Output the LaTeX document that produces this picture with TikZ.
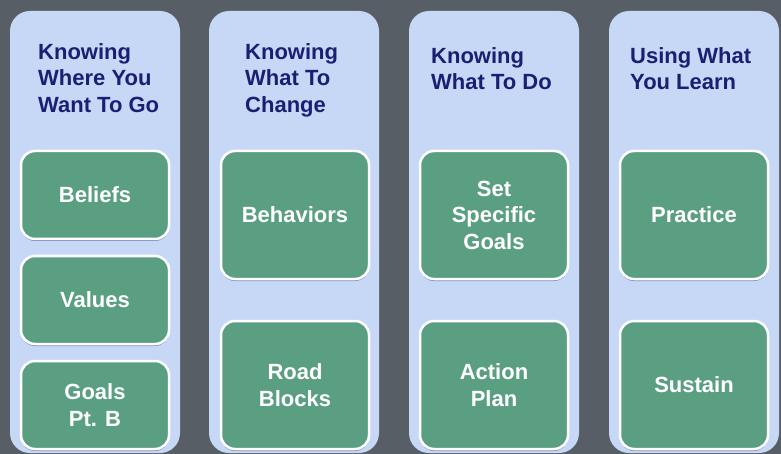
\documentclass[tikz,border=0pt]{standalone}
\usepackage{fontspec}
\setmainfont{Liberation Sans}
\usetikzlibrary{shadows}
\definecolor{slate}{HTML}{585E65}
\definecolor{paleblue}{HTML}{C6D8F6}
\definecolor{navy}{HTML}{1B1F73}
\definecolor{sage}{HTML}{5B9F82}

\begin{document}
\begin{tikzpicture}[x=1pt,y=-1pt,
  lane/.style={fill=paleblue, rounded corners=20pt, minimum width=170pt, minimum height=442pt, inner sep=0pt},
  heading/.style={anchor=north west, inner sep=0pt, text=navy, align=left, font=\bfseries\fontsize{22}{26.5}\selectfont},
  tile/.style={fill=sage, draw=white, line width=2.5pt, rounded corners=14pt, minimum width=148pt, text=white, align=center,
    font=\bfseries\fontsize{22}{26.5}\selectfont,
    drop shadow={shadow xshift=0pt, shadow yshift=-2pt, opacity=0.35, fill=black!60!blue}},
  short/.style={tile, minimum height=88pt},
  tall/.style={tile, minimum height=128pt}]

\fill[slate] (0,0) rectangle (781,454);

% lanes
\node[lane] (lane1) at (95,232) {};
\node[lane] (lane2) at (294,232) {};
\node[lane] (lane3) at (494,232) {};
\node[lane] (lane4) at (694,232) {};

% headings
\node[heading] (head1) at (38,43) {Knowing\\Where You\\Want To Go};
\node[heading] (head2) at (245,43) {Knowing\\What To\\Change};
\node[heading] (head3) at (431,47) {Knowing\\What To Do};
\node[heading] (head4) at (630,47) {Using What\\You Learn};

% tiles
\node[short] (beliefs) at (95,195) {Beliefs};
\node[short] (values) at (95,300) {Values};
\node[short] (goals) at (95,405) {Goals\\Pt. B};

\node[tall] (behaviors) at (295,215) {Behaviors};
\node[tall] (roadblocks) at (295,385) {Road\\Blocks};

\node[tall] (specific) at (494,215) {Set\\Specific\\Goals};
\node[tall] (action) at (494,385) {Action\\Plan};

\node[tall] (practice) at (694,215) {Practice};
\node[tall] (sustain) at (694,385) {Sustain};

\end{tikzpicture}
\end{document}
